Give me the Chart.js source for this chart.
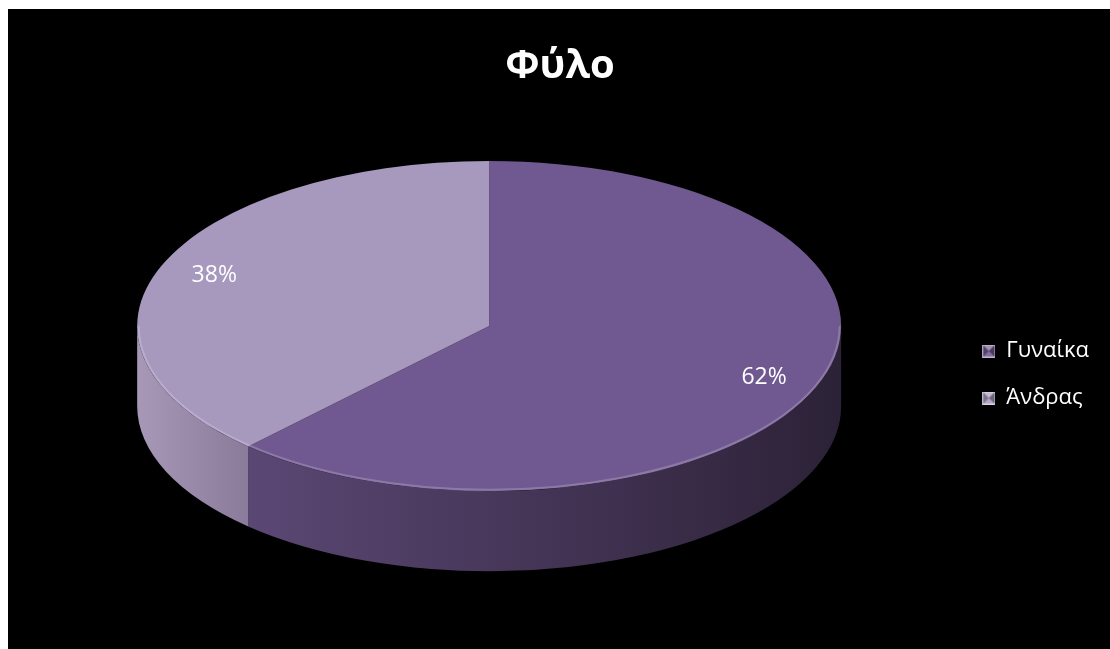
<!DOCTYPE html>
<html>
<head>
<meta charset="utf-8">
<script src="https://cdn.jsdelivr.net/npm/chart.js@4.4.0/dist/chart.umd.min.js"></script>
<style>
  html, body { margin: 0; background: #fff; }
  #wrap { position: absolute; left: 8px; top: 9px; width: 1102px; height: 640px; background: #000; }
</style>
</head>
<body>
<div id="wrap"><canvas id="pieChart" width="1102" height="640"></canvas></div>
<script>
const chartTitle = 'Φύλο';
const labels = ['Γυναίκα', 'Άνδρας'];
const shares = [62, 38];
const topColors = ['#705890', '#a798be'];
const wallColors = [['#5b4774', '#2c2237'], ['#a698b6', '#8b7b9b']];

const fontFamily = "'Open Sans', 'Noto Sans', sans-serif";
const tilt = 0.469;   // how flat the disc looks from this angle
const depth = 80;     // thickness of the side wall

// small bevelled squares for the legend
function bevelBox(color) {
  const s = 13;
  const c = document.createElement('canvas');
  c.width = c.height = s;
  const g = c.getContext('2d');
  const tri = (pts, fill) => {
    g.beginPath();
    g.moveTo(pts[0], pts[1]);
    g.lineTo(pts[2], pts[3]);
    g.lineTo(pts[4], pts[5]);
    g.closePath();
    g.fillStyle = fill;
    g.fill();
  };
  g.fillStyle = color;
  g.fillRect(0, 0, s, s);
  tri([0, 0, s, 0, s / 2, s / 2], 'rgba(255,255,255,0.35)');
  tri([0, s, s, s, s / 2, s / 2], 'rgba(255,255,255,0.15)');
  tri([0, 0, 0, s, s / 2, s / 2], 'rgba(0,0,0,0.25)');
  tri([s, 0, s, s, s / 2, s / 2], 'rgba(0,0,0,0.35)');
  g.strokeStyle = 'rgba(255,255,255,0.5)';
  g.strokeRect(0.5, 0.5, s - 1, s - 1);
  return c;
}
const legendBoxes = topColors.map(bevelBox);

function visibleFront(start, end) {
  // part of a slice that faces the viewer (canvas angles 0..PI)
  const parts = [];
  for (let k = -1; k <= 1; k++) {
    const a0 = Math.max(start + k * 2 * Math.PI, 0);
    const a1 = Math.min(end + k * 2 * Math.PI, Math.PI);
    if (a1 > a0) parts.push([a0, a1]);
  }
  return parts;
}

const pie3d = {
  id: 'pie3d',
  beforeDatasetsDraw(chart) {
    const ctx = chart.ctx;
    const arcs = chart.getDatasetMeta(0).data;
    const R = arcs[0].outerRadius;
    const cx = arcs[0].x;
    const cy = chart.chartArea.top + R * tilt;
    const ry = R * tilt;

    arcs.forEach((arc, i) => {
      visibleFront(arc.startAngle, arc.endAngle).forEach(([a0, a1]) => {
        ctx.save();
        ctx.beginPath();
        ctx.ellipse(cx, cy, R, ry, 0, a0, a1);
        ctx.ellipse(cx, cy + depth, R, ry, 0, a1, a0, true);
        ctx.closePath();
        const xl = cx + Math.cos(a1) * R;
        const xr = cx + Math.cos(a0) * R;
        const grad = ctx.createLinearGradient(xl, 0, xr, 0);
        grad.addColorStop(0, wallColors[i][0]);
        grad.addColorStop(1, wallColors[i][1]);
        ctx.fillStyle = grad;
        ctx.fill();
        ctx.restore();
      });
    });

    // squash the pie into the top face of the disc
    ctx.save();
    ctx.translate(cx, cy);
    ctx.scale(1, tilt);
    ctx.translate(-arcs[0].x, -arcs[0].y);
  },
  afterDatasetsDraw(chart) {
    const ctx = chart.ctx;
    ctx.restore();

    const arcs = chart.getDatasetMeta(0).data;
    const R = arcs[0].outerRadius;
    const cx = arcs[0].x;
    const ry = R * tilt;
    const cy = chart.chartArea.top + ry;
    const total = shares.reduce((a, b) => a + b, 0);

    // soft highlight along the front rim
    arcs.forEach((arc) => {
      visibleFront(arc.startAngle, arc.endAngle).forEach(([a0, a1]) => {
        ctx.save();
        ctx.beginPath();
        ctx.ellipse(cx, cy, R - 1.5, ry - 1.5, 0, a0, a1);
        ctx.strokeStyle = 'rgba(255,255,255,0.2)';
        ctx.lineWidth = 2;
        ctx.stroke();
        ctx.restore();
      });
    });

    ctx.save();
    ctx.fillStyle = '#fff';
    ctx.font = '23px ' + fontFamily;
    ctx.textAlign = 'center';
    ctx.textBaseline = 'middle';
    arcs.forEach((arc, i) => {
      const mid = (arc.startAngle + arc.endAngle) / 2;
      const x = cx + Math.cos(mid) * R * 0.84;
      const y = cy + Math.sin(mid) * ry * 0.84;
      ctx.fillText(Math.round(shares[i] / total * 100) + '%', x, y);
    });
    ctx.restore();
  }
};

const genLabels = Chart.overrides.doughnut.plugins.legend.labels.generateLabels;

new Chart(document.getElementById('pieChart').getContext('2d'), {
  type: 'pie',
  data: {
    labels: labels,
    datasets: [{
      data: shares,
      backgroundColor: topColors,
      borderWidth: 0,
      radius: 352
    }]
  },
  options: {
    responsive: false,
    animation: false,
    layout: { padding: { left: 13, right: 11, top: 0, bottom: 61 } },
    plugins: {
      title: {
        display: true,
        text: chartTitle,
        color: '#fff',
        font: { family: fontFamily, size: 40, weight: 'bold' },
        padding: { top: 34, bottom: 70 }
      },
      legend: {
        position: 'right',
        fullSize: false,
        labels: {
          color: '#fff',
          font: { family: fontFamily, size: 22 },
          usePointStyle: true,
          boxWidth: 13,
          padding: 25,
          generateLabels(chart) {
            return genLabels(chart).map((item, i) => Object.assign(item, { pointStyle: legendBoxes[i] }));
          }
        }
      },
      tooltip: { enabled: false }
    }
  },
  plugins: [pie3d]
});
</script>
</body>
</html>
